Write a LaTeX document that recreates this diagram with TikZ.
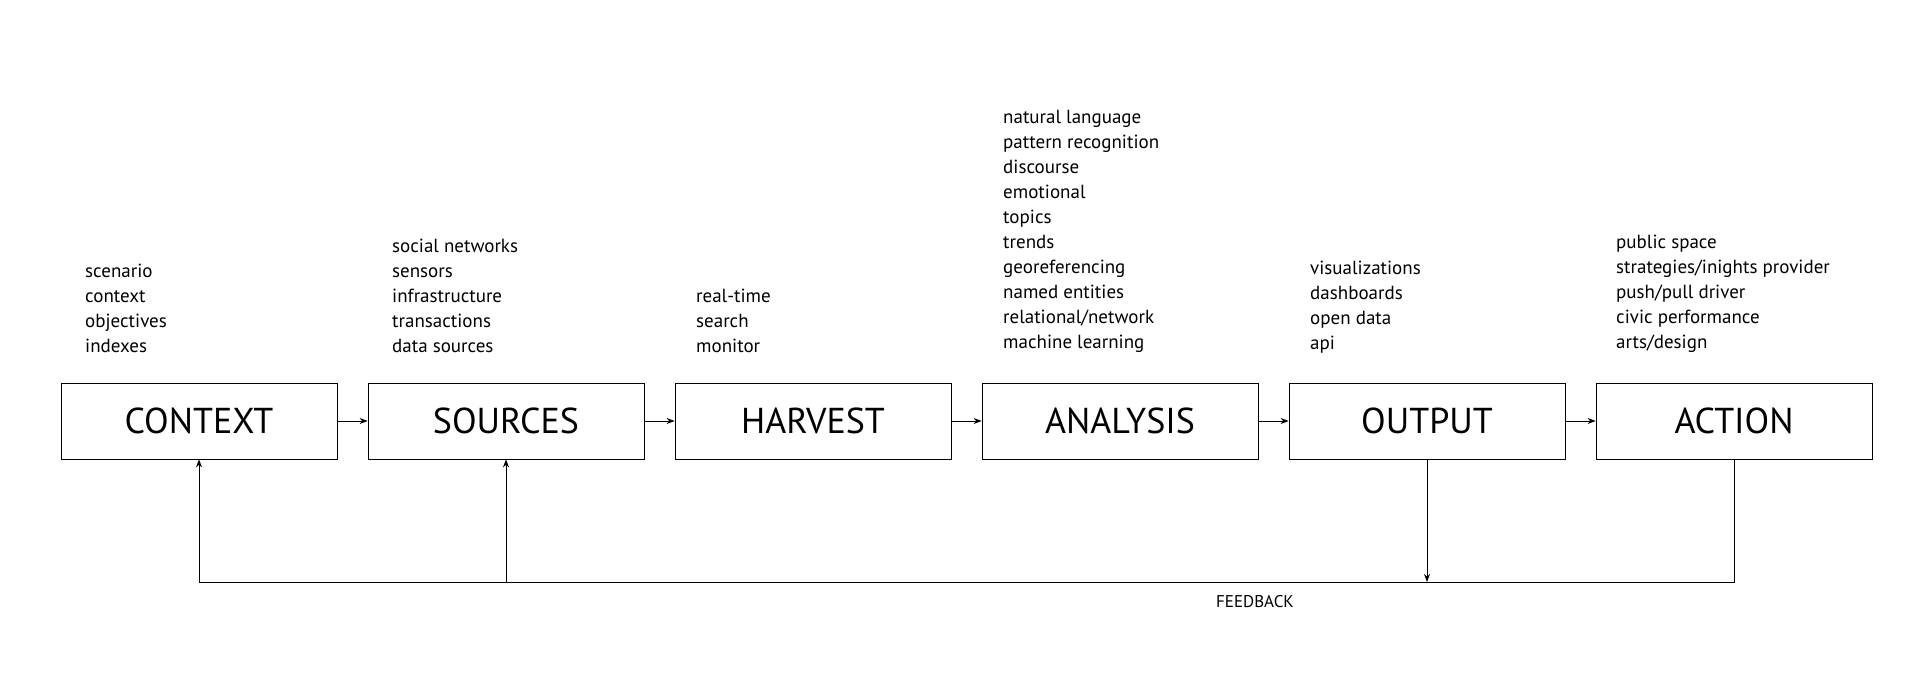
\documentclass[tikz,border=0pt]{standalone}
\usepackage{fontspec}
\setmainfont{PT Sans}
\usetikzlibrary{arrows.meta, positioning}

\begin{document}
\begin{tikzpicture}[
    x=1pt, y=-1pt,
    stage/.style={rectangle, draw, thick, minimum width=276pt, minimum height=76pt, font=\fontsize{36}{40}\selectfont},
    items/.style={align=left, anchor=south west, inner sep=0pt, font=\fontsize{19}{25}\selectfont},
    arrow/.style={-{Stealth[length=8pt]}, thick}
]
\useasboundingbox (0,0) rectangle (1920,691);

% Stages
\node[stage] (context) at (199,421) {CONTEXT};
\node[stage] (sources) at (506,421) {SOURCES};
\node[stage] (harvest) at (813,421) {HARVEST};
\node[stage] (analysis) at (1120,421) {ANALYSIS};
\node[stage] (output) at (1427,421) {OUTPUT};
\node[stage] (action) at (1734,421) {ACTION};

% Item lists
\node[items] (ctxitems) at (85,353) {scenario\\context\\objectives\\indexes};
\node[items] (srcitems) at (392,353) {social networks\\sensors\\infrastructure\\transactions\\data sources};
\node[items] (hrvitems) at (696,353) {real-time\\search\\monitor};
\node[items] (anaitems) at (1003,353) {natural language\\pattern recognition\\discourse\\emotional\\topics\\trends\\georeferencing\\named entities\\relational/network\\machine learning};
\node[items] (outitems) at (1310,353) {visualizations\\dashboards\\open data\\api};
\node[items] (actitems) at (1616,353) {public space\\strategies/inights provider\\push/pull driver\\civic performance\\arts/design};

% Flow
\draw[arrow] (context) -- (sources);
\draw[arrow] (sources) -- (harvest);
\draw[arrow] (harvest) -- (analysis);
\draw[arrow] (analysis) -- (output);
\draw[arrow] (output) -- (action);

% Feedback loop
\coordinate (fbright) at (1734,582);
\coordinate (fbleft) at (199,582);
\coordinate (fbsrc) at (506,582);
\coordinate (fbout) at (1427,582);
\draw[thick] (action.south) -- (fbright) -- (fbleft);
\draw[arrow] (fbleft) -- (context.south);
\draw[arrow] (fbsrc) -- (sources.south);
\draw[arrow] (output.south) -- (fbout);
\node[font=\fontsize{17}{20}\selectfont] (feedback) at (1255,602) {FEEDBACK};

\end{tikzpicture}
\end{document}
